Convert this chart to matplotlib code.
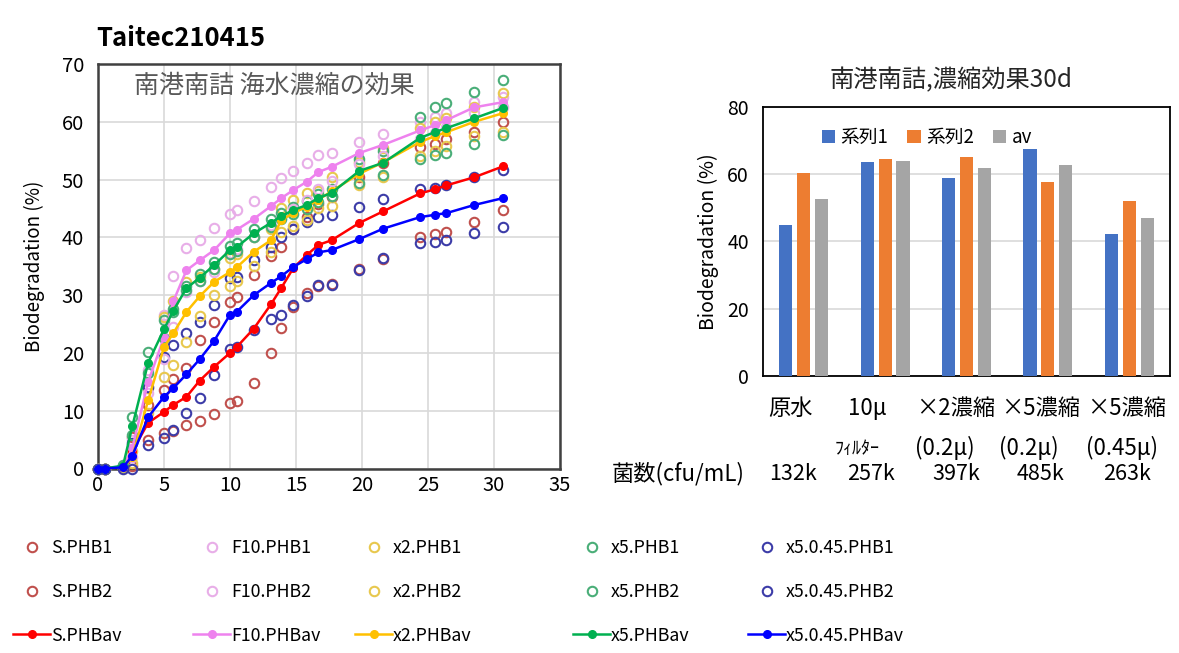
import matplotlib
matplotlib.use('Agg')
import matplotlib.pyplot as plt
import numpy as np

plt.rcParams['font.family'] = ['Noto Sans CJK JP', 'DejaVu Sans']

# ---------------- data: left chart ----------------
days = [0, 0.5, 1.9, 2.6, 3.8, 5.0, 5.7, 6.7, 7.7, 8.8, 10.0, 10.5, 11.8, 13.1,
        13.9, 14.8, 15.8, 16.7, 17.7, 19.8, 21.6, 24.4, 25.5, 26.4, 28.5, 30.7]

S_PHB1 = [0, 0, 0.5, 5.5, 11.0, 13.6, 15.5, 17.4, 22.2, 25.4, 28.8, 29.7, 33.5, 36.8,
          38.3, 41.5, 43.5, 45.8, 47.0, 50.4, 52.8, 55.6, 56.1, 57.0, 58.2, 60.0]
S_PHB2 = [0, 0, 0.1, 0.5, 4.9, 6.1, 6.5, 7.5, 8.2, 9.4, 11.3, 11.7, 14.8, 20.0,
          24.3, 28.0, 30.3, 31.6, 32.0, 34.6, 36.2, 40.0, 40.5, 40.9, 42.6, 44.7]
S_PHBav = [0, 0, 0.3, 3.0, 7.9, 9.8, 11.0, 12.4, 15.2, 17.6, 20.0, 21.0, 24.2, 28.4,
           31.3, 34.7, 36.9, 38.7, 39.5, 42.5, 44.5, 47.6, 48.3, 49.0, 50.4, 52.3]

F10_PHB1 = [0, 0, 0.5, 5.0, 17.0, 26.5, 33.3, 38.1, 39.5, 41.6, 44.1, 44.7, 46.3, 48.7,
            50.3, 51.5, 52.8, 54.2, 54.6, 56.5, 57.9, 60.0, 60.8, 61.5, 63.5, 64.3]
F10_PHB2 = [0, 0, 0.1, 2.0, 13.0, 18.9, 24.5, 30.5, 32.5, 34.0, 37.3, 37.9, 40.1, 42.1,
            43.3, 44.9, 46.4, 48.4, 49.8, 52.7, 54.1, 57.0, 58.0, 59.1, 61.5, 62.5]
F10_PHBav = [0, 0, 0.3, 3.5, 15.0, 22.7, 28.9, 34.3, 36.0, 37.8, 40.7, 41.3, 43.2, 45.4,
             46.8, 48.2, 49.6, 51.3, 52.2, 54.6, 56.0, 58.5, 59.4, 60.3, 62.5, 63.4]

x2_PHB1 = [0, 0, 0.3, 3.0, 14.0, 26.2, 28.9, 32.3, 33.2, 34.6, 36.5, 37.1, 40.0, 41.5,
           45.0, 46.4, 47.6, 48.0, 50.5, 53.0, 55.5, 59.0, 60.0, 60.6, 62.5, 64.9]
x2_PHB2 = [0, 0, 0.1, 1.0, 9.6, 15.8, 17.9, 21.9, 26.4, 30.0, 31.5, 32.5, 35.0, 37.5,
           41.0, 42.0, 43.0, 45.0, 45.5, 49.0, 50.5, 54.0, 55.0, 55.8, 57.5, 58.2]
x2_PHBav = [0, 0, 0.2, 2.0, 11.8, 21.0, 23.4, 27.1, 29.8, 32.3, 34.0, 34.8, 37.5, 39.5,
            43.0, 44.2, 45.3, 46.5, 48.0, 51.0, 53.0, 56.5, 57.5, 58.2, 60.0, 61.5]

x5_PHB1 = [0, 0, 0.6, 8.9, 20.1, 25.7, 27.6, 31.5, 33.6, 35.8, 38.5, 39.0, 41.4, 43.2,
           44.3, 45.3, 46.3, 47.5, 48.3, 53.6, 55.0, 60.8, 62.5, 63.3, 65.1, 67.2]
x5_PHB2 = [0, 0, 0.4, 5.8, 16.5, 22.5, 27.0, 30.9, 32.4, 34.6, 37.1, 37.6, 40.0, 41.8,
           43.1, 44.1, 44.9, 46.1, 47.1, 49.4, 50.8, 53.5, 54.2, 54.6, 56.1, 57.7]
x5_PHBav = [0, 0, 0.5, 7.3, 18.3, 24.1, 27.3, 31.2, 33.0, 35.2, 37.8, 38.3, 40.7, 42.5,
            43.7, 44.7, 45.6, 46.8, 47.7, 51.5, 52.9, 57.2, 58.2, 58.9, 60.6, 62.4]

x545_PHB1 = [0, 0, 0.3, 4.4, 14.1, 19.3, 21.4, 23.4, 25.4, 28.3, 33.0, 33.2, 36.0, 38.3,
             40.0, 41.4, 42.6, 43.5, 43.9, 45.2, 46.6, 48.4, 48.5, 49.0, 50.4, 51.6]
x545_PHB2 = [0, 0, 0, 0, 4.1, 5.3, 6.7, 9.6, 12.2, 16.2, 20.6, 21.0, 24.0, 25.9,
             26.6, 28.3, 29.8, 31.7, 31.8, 34.3, 36.4, 39.0, 39.2, 39.5, 40.7, 41.8]
x545_PHBav = [0, 0, 0.2, 2.2, 8.9, 12.4, 13.9, 16.3, 18.9, 22.1, 26.6, 27.1, 30.0, 32.1,
              33.3, 34.9, 36.2, 37.4, 37.8, 39.7, 41.5, 43.5, 43.9, 44.2, 45.6, 46.8]

series_names = ['S', 'F10', 'x2', 'x5', 'x5.0.45']

# ---------------- data: right chart ----------------
categories_row1 = ['原水', '10μ', '×2濃縮', '×5濃縮', '×5濃縮']
categories_row2 = ['', 'ﾌｨﾙﾀｰ', '(0.2μ)', '(0.2μ)', '(0.45μ)']
counts = ['132k', '257k', '397k', '485k', '263k']
bar_series = ['系列1', '系列2', 'av']
bar_s1 = [44.9, 63.7, 58.7, 67.4, 42.1]
bar_s2 = [60.2, 64.4, 65.2, 57.7, 51.9]
bar_av = [52.7, 64.0, 61.9, 62.6, 47.0]

# ---------------- styles ----------------
hollow_colors = ['#c0504d', '#e8aee8', '#e8c84e', '#4aae78', '#3c3ca8']
line_colors = ['#ff0000', '#ee82ee', '#ffc000', '#00b050', '#0000ff']
bar_colors = ['#4472c4', '#ed7d31', '#a5a5a5']

W, H = 1179, 653
fig = plt.figure(figsize=(W / 100, H / 100), dpi=100)


def fx(px):
    return px / W


def fy(py):
    return 1 - py / H


# ================= left chart =================
ax1 = fig.add_axes([fx(98), fy(468.5), (560 - 98) / W, (468.5 - 64) / H])
phb1 = [S_PHB1, F10_PHB1, x2_PHB1, x5_PHB1, x545_PHB1]
phb2 = [S_PHB2, F10_PHB2, x2_PHB2, x5_PHB2, x545_PHB2]
phbav = [S_PHBav, F10_PHBav, x2_PHBav, x5_PHBav, x545_PHBav]

handles = {}
for group in (phb1, phb2):
    for i, vals in enumerate(group):
        h, = ax1.plot(days, vals, ls='none', marker='o', ms=6.8, mfc='none',
                      mec=hollow_colors[i], mew=1.5, clip_on=False, zorder=3)
        handles.setdefault(i, []).append(h)
for i, vals in enumerate(phbav):
    h, = ax1.plot(days, vals, ls='-', lw=1.8, color=line_colors[i], marker='o',
                  ms=5.5, mfc=line_colors[i], mec=line_colors[i], clip_on=False, zorder=4)
    handles[i].append(h)

ax1.set_xlim(0, 35)
ax1.set_ylim(0, 70)
ax1.set_xticks(range(0, 36, 5))
ax1.set_yticks(range(0, 71, 10))
ax1.grid(True, color='#d9d9d9', lw=1.2)
ax1.set_axisbelow(True)
for sp in ax1.spines.values():
    sp.set_color('#404040')
    sp.set_linewidth(1.8)
ax1.tick_params(axis='y', length=0, labelsize=14.5, pad=10)
ax1.tick_params(axis='x', length=0, labelsize=14.5, pad=5)
ax1.set_ylabel('Biodegradation (%)', fontsize=13.5, labelpad=12)
ax1.text(0.077, 0.945, '南港南詰 海水濃縮の効果', transform=ax1.transAxes,
         fontsize=18, color='#595959', ha='left', va='center')
fig.text(fx(96), fy(38), 'Taitec210415', fontsize=18.5, fontweight='bold',
         ha='left', va='center')

# legend below: one column per sample group
col_x = [13, 193, 355, 573, 748]
for i, name in enumerate(series_names):
    labels = [f'{name}.PHB1', f'{name}.PHB2', f'{name}.PHBav']
    fig.legend(handles[i], labels, loc='upper left',
               bbox_to_anchor=(fx(col_x[i]), fy(539)), frameon=False,
               fontsize=12.8, handlelength=2.1, handletextpad=0.05,
               labelspacing=1.45, borderpad=0, borderaxespad=0)

# ================= right chart =================
ax2 = fig.add_axes([fx(763), fy(376), (1170 - 763) / W, (376 - 106.7) / H])
x = np.arange(len(categories_row1))
bw = 0.16
step = 0.22
for j, vals in enumerate([bar_s1, bar_s2, bar_av]):
    ax2.bar(x + (j - 1) * step, vals, width=bw, color=bar_colors[j],
            label=bar_series[j], zorder=3)
ax2.set_xlim(-0.5, len(categories_row1) - 0.5)
ax2.set_ylim(0, 80)
ax2.set_yticks(range(0, 81, 20))
ax2.set_xticks([])
ax2.yaxis.grid(True, color='#d9d9d9', lw=1.2)
ax2.set_axisbelow(True)
for sp in ax2.spines.values():
    sp.set_color('#000000')
    sp.set_linewidth(1.3)
ax2.tick_params(length=0, labelsize=14, pad=10)
ax2.set_ylabel('Biodegradation (%)', fontsize=14, labelpad=6)
fig.text(fx(951), fy(80), '南港南詰,濃縮効果30d', fontsize=17.5, ha='center',
         va='center', color='#262626')
ax2.legend(loc='upper left', bbox_to_anchor=(0.145, 0.925), ncol=3, frameon=False,
           fontsize=13.5, handlelength=0.7, handleheight=0.7, handletextpad=0.3,
           columnspacing=1.0, borderpad=0, borderaxespad=0)

# category labels (x positions in pixels -> data coords)
slot = (1170 - 763) / len(categories_row1)


def cx(px):
    return (px - 763) / slot - 0.5


def ay(py):
    return (376 - py) / (376 - 106.7)


row1_px = [791, 867, 956, 1041, 1127]
row2_px = [857, 857, 945, 1029, 1122]
row2_py = [448, 449, 448, 448, 448]
row3_px = [793, 871, 956, 1041, 1127]
tr = ax2.get_xaxis_transform()
for i in range(len(categories_row1)):
    ax2.text(cx(row1_px[i]), ay(408), categories_row1[i], transform=tr,
             ha='center', va='center', fontsize=16, clip_on=False)
    if categories_row2[i]:
        fs = 13 if i == 1 else 16
        ax2.text(cx(row2_px[i]), ay(row2_py[i]), categories_row2[i], transform=tr,
                 ha='center', va='center', fontsize=fs, clip_on=False)
    ax2.text(cx(row3_px[i]), ay(474), counts[i], transform=tr,
             ha='center', va='center', fontsize=15.5, clip_on=False)
fig.text(fx(612), fy(474), '菌数(cfu/mL)', ha='left', va='center', fontsize=16)

fig.savefig('out.png', dpi=100)
